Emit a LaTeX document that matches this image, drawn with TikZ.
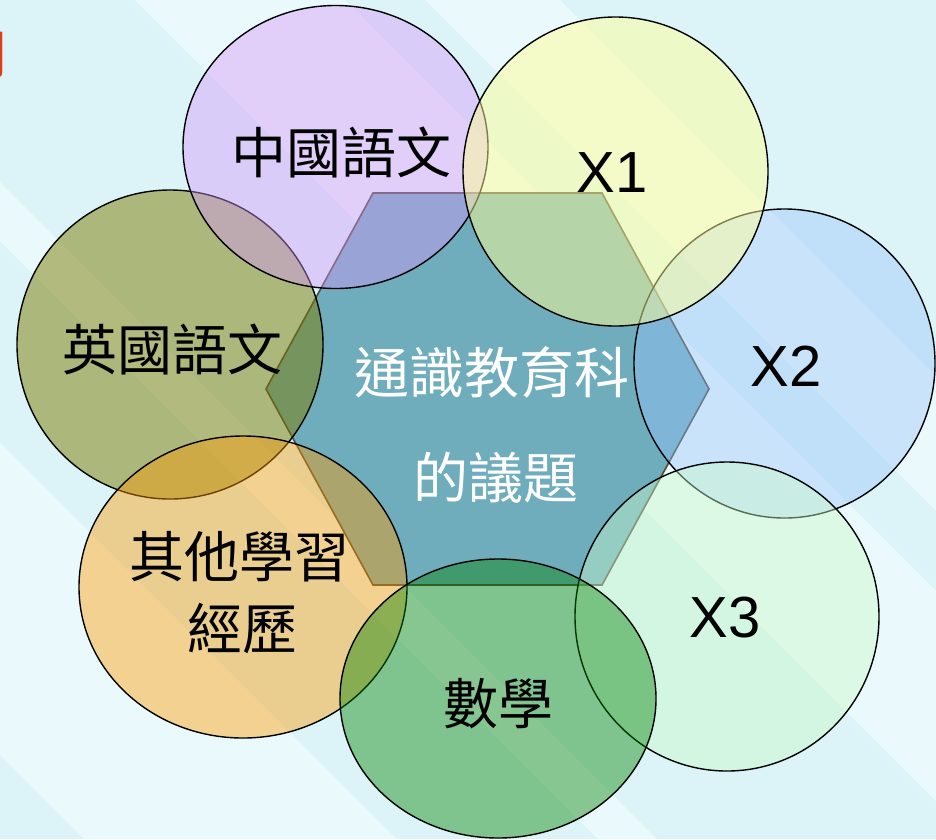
\documentclass[tikz,border=0pt]{standalone}
\usepackage{fontspec}
\usetikzlibrary{shapes.geometric}
\newfontfamily\cjk{Noto Sans CJK TC}
\newfontfamily\arialf{Liberation Sans}
\definecolor{bgbase}{RGB}{220,244,248}
\definecolor{bglight}{RGB}{234,249,251}
\definecolor{hexfill}{RGB}{111,173,189}
\definecolor{hexline}{RGB}{80,75,55}
\definecolor{cChin}{RGB}{213,151,250}
\definecolor{cEng}{RGB}{126,124,0}
\definecolor{cXone}{RGB}{255,255,150}
\definecolor{cXtwo}{RGB}{152,194,253}
\definecolor{cXthree}{RGB}{201,249,201}
\definecolor{cOther}{RGB}{255,154,0}
\definecolor{cMath}{RGB}{0,128,0}
\definecolor{titlered}{RGB}{222,60,20}
\begin{document}
\begin{tikzpicture}[x=1pt,y=-1pt,
  blob/.style={ellipse, draw=black, line width=1.4pt, inner sep=0pt, outer sep=0pt},
  cjklabel/.style={inner sep=0pt, text=black, font=\cjk\fontsize{55}{60}\selectfont},
  xlabel/.style={inner sep=0pt, text=black, font=\arialf\fontsize{58}{62}\selectfont}]
\useasboundingbox (0,0) rectangle (936,839);
% background
\fill[bgbase] (0,0) rectangle (936,839);
\begin{scope}
  \clip (0,0) rectangle (936,839);
  \foreach \a/\b in {135/345, 425/560, -755/-442, -241/-182}
    \fill[bglight] (\a,0) -- (\b,0) -- (\b+839,839) -- (\a+839,839) -- cycle;
\end{scope}
% partial title character (cut off at the left edge, as in the reference)
\node[inner sep=0pt, anchor=east, text=titlered, font=\cjk\fontsize{62}{66}\selectfont] (ttl) at (9,50) {向};
% hexagon
\draw[fill=hexfill, draw=hexline, line width=1.6pt, line join=miter]
  (266,389) -- (373,193) -- (602,193) -- (709,389) -- (602,585) -- (373,585) -- cycle;
% circles
\node[blob, fill=cXtwo, fill opacity=0.40, minimum width=301pt, minimum height=309pt] (x2c) at (784.5,363.5) {};
\node[blob, fill=cEng, fill opacity=0.50, minimum width=306pt, minimum height=309pt] (engc) at (170,344.5) {};
\node[blob, fill=cChin, fill opacity=0.42, minimum width=305pt, minimum height=283pt] (chic) at (335.5,147) {};
\node[blob, fill=cXone, fill opacity=0.49, minimum width=305pt, minimum height=309pt] (x1c) at (615.5,171.5) {};
\node[blob, fill=cXthree, fill opacity=0.43, minimum width=304pt, minimum height=309pt] (x3c) at (727,616.5) {};
\node[blob, fill=cOther, fill opacity=0.42, minimum width=328pt, minimum height=302pt] (othc) at (243,587) {};
\node[blob, fill=cMath, fill opacity=0.42, minimum width=316pt, minimum height=279pt] (mathc) at (498,698.5) {};
% labels
\node[cjklabel] (chit) at (341,152) {中國語文};
\node[cjklabel] (engt) at (172,349) {英國語文};
\node[cjklabel, text=white] (cen1) at (492,372) {通識教育科};
\node[cjklabel, text=white] (cen2) at (496,478) {的議題};
\node[cjklabel] (oth1) at (239,557) {其他學習};
\node[cjklabel] (oth2) at (242,628) {經歷};
\node[cjklabel] (matht) at (498,704) {數學};
\node[xlabel] (x1t) at (612,173) {X1};
\node[xlabel] (x2t) at (786,366) {X2};
\node[xlabel] (x3t) at (725,618) {X3};
\end{tikzpicture}
\end{document}
